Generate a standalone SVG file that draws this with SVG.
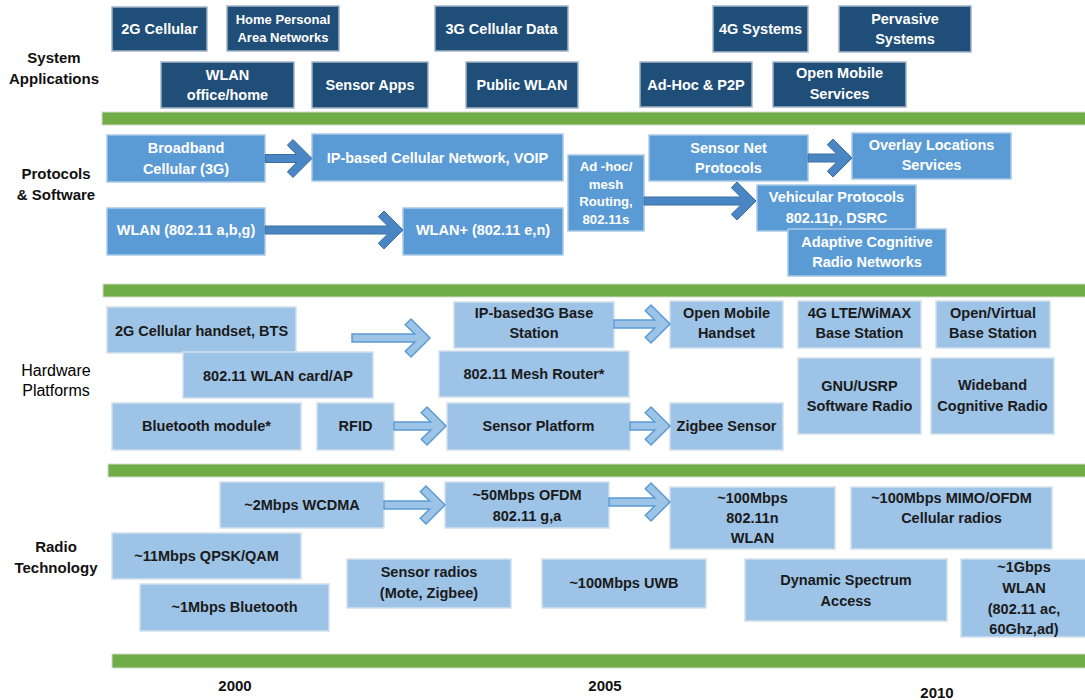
<svg xmlns="http://www.w3.org/2000/svg" width="1085" height="700" viewBox="0 0 1085 700">
  <style>
    text { font-family: "Liberation Sans", Arial, sans-serif; font-weight: bold; text-anchor: middle; dominant-baseline: central; }
    .bar { fill: #70AD47; stroke: #d3dccd; stroke-width: 1; }
    .app rect { fill: #1F4E79; stroke: #a3b5c8; stroke-width: 1.5; }
    .app text { fill: #ffffff; font-size: 14.5px; }
    .proto rect { fill: #5B9BD5; stroke: #a9c8e6; stroke-width: 1.5; }
    .proto text { fill: #ffffff; font-size: 14.5px; }
    .hw rect { fill: #9DC3E6; stroke: #d2e0ee; stroke-width: 1.5; }
    .hw text { fill: #1a1a1a; font-size: 14.5px; }
    .small { font-size: 13px !important; }
    .tiny { font-size: 13.2px !important; }
    .lbl { fill: #111111; font-size: 15px; }
    .lbl.light { font-weight: normal; font-size: 16px; fill: #000000; }
    .year { fill: #111111; font-size: 15px; }
    .arr-dark { fill: #4A86C4; stroke: #3B6FA0; stroke-width: 1; }
    .arr-light { fill: #9DC3E6; stroke: #5B9BD5; stroke-width: 1.5; }
  </style>

  <rect width="1085" height="700" fill="#ffffff"/>

  <!-- layer bars -->
  <g id="bars">
    <rect class="bar" x="102" y="112" width="990" height="13"/>
    <rect class="bar" x="103" y="284" width="990" height="13"/>
    <rect class="bar" x="108" y="464" width="990" height="13"/>
    <rect class="bar" x="112" y="654" width="990" height="14"/>
  </g>

  <!-- row labels -->
  <g id="row-labels">
    <text class="lbl" x="54" y="57">System</text>
    <text class="lbl" x="54" y="78">Applications</text>
    <text class="lbl" x="56" y="173">Protocols</text>
    <text class="lbl" x="56" y="194">&amp; Software</text>
    <text class="lbl light" x="56" y="370">Hardware</text>
    <text class="lbl light" x="56" y="390">Platforms</text>
    <text class="lbl" x="56" y="546">Radio</text>
    <text class="lbl" x="56" y="567">Technology</text>
  </g>

  <!-- year axis -->
  <g id="years">
    <text class="year" x="235" y="685">2000</text>
    <text class="year" x="605" y="685">2005</text>
    <text class="year" x="937" y="692">2010</text>
  </g>

  <!-- System Applications -->
  <g id="app-2g" class="app"><rect x="112" y="7" width="95" height="44"/><text x="159.5" y="29">2G Cellular</text></g>
  <g id="app-hpan" class="app"><rect x="227" y="6" width="112" height="45"/><text class="small" x="283" y="19">Home Personal</text><text class="small" x="283" y="37">Area Networks</text></g>
  <g id="app-3g" class="app"><rect x="435" y="6" width="133" height="45"/><text x="501.5" y="28.5">3G Cellular Data</text></g>
  <g id="app-4g" class="app"><rect x="713" y="6" width="95" height="46"/><text x="760.5" y="29">4G Systems</text></g>
  <g id="app-pervasive" class="app"><rect x="839" y="6" width="132" height="46"/><text x="905" y="19">Pervasive</text><text x="905" y="39">Systems</text></g>
  <g id="app-wlan" class="app"><rect x="161" y="62" width="133" height="46"/><text x="227.5" y="75">WLAN</text><text x="227.5" y="95">office/home</text></g>
  <g id="app-sensor" class="app"><rect x="312" y="62" width="116" height="46"/><text x="370" y="85">Sensor Apps</text></g>
  <g id="app-publicwlan" class="app"><rect x="466" y="62" width="112" height="46"/><text x="522" y="85">Public WLAN</text></g>
  <g id="app-adhoc" class="app"><rect x="640" y="62" width="112" height="45"/><text x="696" y="85">Ad-Hoc &amp; P2P</text></g>
  <g id="app-openmobile" class="app"><rect x="773" y="62" width="133" height="45"/><text x="839.5" y="73">Open Mobile</text><text x="839.5" y="94">Services</text></g>

  <!-- Protocols & Software -->
  <g id="pr-broadband" class="proto"><rect x="107" y="135" width="158" height="47"/><text x="186" y="148">Broadband</text><text x="186" y="169">Cellular (3G)</text></g>
  <g id="pr-ipcell" class="proto"><rect x="312" y="134" width="251" height="47"/><text x="437.5" y="158">IP-based Cellular Network, VOIP</text></g>
  <g id="pr-wlan" class="proto"><rect x="107" y="208" width="158" height="47"/><text x="186" y="230">WLAN (802.11 a,b,g)</text></g>
  <g id="pr-wlanplus" class="proto"><rect x="403" y="208" width="160" height="47"/><text x="483" y="230">WLAN+ (802.11 e,n)</text></g>
  <g id="pr-adhoc" class="proto"><rect x="568" y="155" width="76" height="76"/><text class="tiny" x="606" y="166.5">Ad -hoc/</text><text class="tiny" x="606" y="184">mesh</text><text class="tiny" x="606" y="201.5">Routing,</text><text class="tiny" x="606" y="219">802.11s</text></g>
  <g id="pr-sensornet" class="proto"><rect x="649" y="135" width="159" height="46"/><text x="728.5" y="147.5">Sensor Net</text><text x="728.5" y="167.5">Protocols</text></g>
  <g id="pr-overlay" class="proto"><rect x="852" y="133" width="159" height="46"/><text x="931.5" y="145">Overlay Locations</text><text x="931.5" y="165">Services</text></g>
  <g id="pr-vehicular" class="proto"><rect x="757" y="185" width="159" height="46"/><text x="836.5" y="197">Vehicular Protocols</text><text x="836.5" y="218">802.11p, DSRC</text></g>
  <g id="pr-cognitive" class="proto"><rect x="788" y="229" width="158" height="47"/><text x="867" y="241.5">Adaptive Cognitive</text><text x="867" y="261.5">Radio Networks</text></g>

  <!-- Hardware Platforms -->
  <g id="hw-2g" class="hw"><rect x="107" y="307" width="189" height="46"/><text x="201.5" y="331">2G Cellular handset, BTS</text></g>
  <g id="hw-wlancard" class="hw"><rect x="183" y="352" width="190" height="46"/><text x="278" y="376">802.11 WLAN card/AP</text></g>
  <g id="hw-bluetooth" class="hw"><rect x="112" y="403" width="189" height="47"/><text x="206.5" y="426">Bluetooth module*</text></g>
  <g id="hw-rfid" class="hw"><rect x="317" y="403" width="77" height="47"/><text x="355.5" y="426">RFID</text></g>
  <g id="hw-ip3g" class="hw"><rect x="454" y="302" width="160" height="46"/><text x="534" y="313">IP-based3G Base</text><text x="534" y="333">Station</text></g>
  <g id="hw-mesh" class="hw"><rect x="439" y="351" width="190" height="46"/><text x="534" y="374">802.11 Mesh Router*</text></g>
  <g id="hw-sensorplatform" class="hw"><rect x="447" y="403" width="183" height="47"/><text x="538.5" y="426">Sensor Platform</text></g>
  <g id="hw-openhandset" class="hw"><rect x="670" y="301" width="113" height="47"/><text x="726.5" y="313">Open Mobile</text><text x="726.5" y="333">Handset</text></g>
  <g id="hw-zigbee" class="hw"><rect x="670" y="403" width="113" height="47"/><text x="726.5" y="426">Zigbee Sensor</text></g>
  <g id="hw-lte" class="hw"><rect x="798" y="301" width="123" height="47"/><text x="859.5" y="313">4G LTE/WiMAX</text><text x="859.5" y="333">Base Station</text></g>
  <g id="hw-virtualbs" class="hw"><rect x="936" y="301" width="114" height="47"/><text x="993" y="313">Open/Virtual</text><text x="993" y="333">Base Station</text></g>
  <g id="hw-gnuradio" class="hw"><rect x="798" y="358" width="123" height="76"/><text x="859.5" y="386">GNU/USRP</text><text x="859.5" y="406">Software Radio</text></g>
  <g id="hw-wideband" class="hw"><rect x="931" y="358" width="123" height="76"/><text x="992.5" y="385">Wideband</text><text x="992.5" y="406">Cognitive Radio</text></g>

  <!-- Radio Technology -->
  <g id="rt-wcdma" class="hw"><rect x="220" y="482" width="164" height="46"/><text x="302" y="505">~2Mbps WCDMA</text></g>
  <g id="rt-ofdm" class="hw"><rect x="445" y="482" width="164" height="46"/><text x="527" y="495">~50Mbps OFDM</text><text x="527" y="516">802.11 g,a</text></g>
  <g id="rt-qpsk" class="hw"><rect x="112" y="533" width="189" height="46"/><text x="206.5" y="556">~11Mbps QPSK/QAM</text></g>
  <g id="rt-bluetooth" class="hw"><rect x="140" y="584" width="189" height="47"/><text x="234.5" y="607">~1Mbps Bluetooth</text></g>
  <g id="rt-sensorradio" class="hw"><rect x="347" y="559" width="164" height="49"/><text x="429" y="572">Sensor radios</text><text x="429" y="593">(Mote, Zigbee)</text></g>
  <g id="rt-uwb" class="hw"><rect x="542" y="559" width="164" height="49"/><text x="624" y="583">~100Mbps UWB</text></g>
  <g id="rt-80211n" class="hw"><rect x="670" y="487" width="165" height="62"/><text x="752.5" y="498">~100Mbps</text><text x="752.5" y="518">802.11n</text><text x="752.5" y="538">WLAN</text></g>
  <g id="rt-mimo" class="hw"><rect x="851" y="487" width="201" height="62"/><text x="951.5" y="498">~100Mbps MIMO/OFDM</text><text x="951.5" y="518">Cellular radios</text></g>
  <g id="rt-dsa" class="hw"><rect x="745" y="559" width="202" height="62"/><text x="846" y="580">Dynamic Spectrum</text><text x="846" y="601">Access</text></g>
  <g id="rt-gbps" class="hw"><rect x="961" y="559" width="126" height="78"/><text x="1024" y="567">~1Gbps</text><text x="1024" y="587.5">WLAN</text><text x="1024" y="608.5">(802.11 ac,</text><text x="1024" y="629">60Ghz,ad)</text></g>

  <!-- connectors: shaft plus open chevron head -->
  <g id="connectors">
    <path class="arr-dark" d="M265 154.5H296.7l-9.4-9.3 5.7-5.7L312 158.5l-19 19-5.7-5.7 9.4-9.3H265Z"/>
    <path class="arr-dark" d="M265 226H387.7l-9.4-9.3 5.7-5.7L403 230l-19 19-5.7-5.7 9.4-9.3H265Z"/>
    <path class="arr-dark" d="M808 154H836.7l-9.4-9.3 5.7-5.7L852 158l-19 19-5.7-5.7 9.4-9.3H808Z"/>
    <path class="arr-dark" d="M644 197H740.7l-9.4-9.3 5.7-5.7L756 201l-19 19-5.7-5.7 9.4-9.3H644Z"/>
    <path class="arr-light" d="M352 334H414.7l-9.4-9.3 5.7-5.7L430 338l-19 19-5.7-5.7 9.4-9.3H352Z"/>
    <path class="arr-light" d="M614 320H654.7l-9.4-9.3 5.7-5.7L670 324l-19 19-5.7-5.7 9.4-9.3H614Z"/>
    <path class="arr-light" d="M394 422H430.7l-9.4-9.3 5.7-5.7L446 426l-19 19-5.7-5.7 9.4-9.3H394Z"/>
    <path class="arr-light" d="M630 422H654.7l-9.4-9.3 5.7-5.7L670 426l-19 19-5.7-5.7 9.4-9.3H630Z"/>
    <path class="arr-light" d="M384 501H429.7l-9.4-9.3 5.7-5.7L445 505l-19 19-5.7-5.7 9.4-9.3H384Z"/>
    <path class="arr-light" d="M609 498H654.7l-9.4-9.3 5.7-5.7L670 502l-19 19-5.7-5.7 9.4-9.3H609Z"/>
  </g>
</svg>
